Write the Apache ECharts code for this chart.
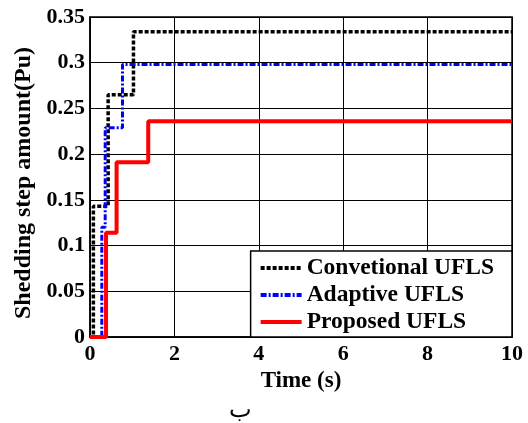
<!DOCTYPE html>
<html><head><meta charset="utf-8">
<script src="https://cdn.jsdelivr.net/npm/echarts@6/dist/echarts.min.js"></script>
<style>html,body{margin:0;padding:0;background:#fff}#c{width:528px;height:423px}</style>
</head><body><div id="c"></div>
<script>
const seriesNames = ['Convetional UFLS', 'Adaptive UFLS', 'Proposed UFLS'];
const convTimes = [0, 0.08, 0.43, 1.03, 10];
const convValues = [0, 0.143, 0.265, 0.334, 0.334];
const adapTimes = [0, 0.28, 0.36, 0.77, 10];
const adapValues = [0, 0.12, 0.229, 0.298, 0.298];
const propTimes = [0, 0.38, 0.63, 1.38, 10];
const propValues = [0, 0.114, 0.191, 0.236, 0.236];
const xTicks = [0, 2, 4, 6, 8, 10];
const yTicks = [0, 0.05, 0.1, 0.15, 0.2, 0.25, 0.3, 0.35];

const pair = (t, v) => t.map((x, i) => [x, v[i]]);
const font = 'Liberation Serif';
const chart = echarts.init(document.getElementById('c'));
chart.setOption({
  animation: false,
  backgroundColor: '#fff',
  grid: { left: 90, right: 16, top: 17, bottom: 86, show: true, borderColor: '#000', borderWidth: 1.5 },
  xAxis: {
    type: 'value', min: 0, max: 10, interval: 2,
    name: 'Time (s)', nameLocation: 'middle', nameGap: 31,
    nameTextStyle: { fontFamily: font, fontWeight: 'bold', fontSize: 23, color: '#000' },
    axisLine: { show: true, lineStyle: { color: '#000', width: 1.5 } },
    axisTick: { inside: true, length: 5, lineStyle: { color: '#000' } },
    axisLabel: { fontFamily: font, fontWeight: 'bold', fontSize: 22, color: '#000', margin: 6,
      formatter: v => xTicks.includes(v) ? String(v) : '' },
    splitLine: { show: true, lineStyle: { color: '#000', width: 1 } }
  },
  yAxis: {
    type: 'value', min: 0, max: 0.35, interval: 0.05,
    name: 'Shedding step amount(Pu)', nameLocation: 'middle', nameGap: 51,
    nameTextStyle: { fontFamily: font, fontWeight: 'bold', fontSize: 24, color: '#000', padding: [0, 12, 0, 0] },
    axisLine: { show: true, lineStyle: { color: '#000', width: 1.5 } },
    axisTick: { inside: true, length: 5, lineStyle: { color: '#000' } },
    axisLabel: { fontFamily: font, fontWeight: 'bold', fontSize: 22, color: '#000', margin: 5,
      formatter: v => { const t = yTicks.find(y => Math.abs(y - v) < 1e-9); return t === undefined ? '' : String(t); } },
    splitLine: { show: true, lineStyle: { color: '#000', width: 1 } }
  },
  legend: {
    orient: 'vertical', right: 16, bottom: 86,
    backgroundColor: '#fff', borderColor: '#000', borderWidth: 1.5, borderRadius: 0,
    padding: [5, 18, 3, 8], itemGap: 3, itemWidth: 41, itemHeight: 14,
    itemStyle: { opacity: 0 },
    lineStyle: { width: 4 },
    textStyle: { fontFamily: font, fontWeight: 'bold', fontSize: 23.5, color: '#000' },
    data: seriesNames
  },
  graphic: [{ type: 'text', left: 229, top: 399,
    style: { text: 'ب', font: '24px "Liberation Serif"', fill: '#000' } }],
  series: [
    { name: seriesNames[0], type: 'line', step: 'end', symbol: 'none', data: pair(convTimes, convValues),
      color: '#000', lineStyle: { color: '#000', width: 3.5, type: [4, 2] }, z: 3 },
    { name: seriesNames[1], type: 'line', step: 'end', symbol: 'none', data: pair(adapTimes, adapValues),
      color: '#0000ff', lineStyle: { color: '#0000ff', width: 3, type: [6, 2, 2, 2] }, z: 4 },
    { name: seriesNames[2], type: 'line', step: 'end', symbol: 'none', data: pair(propTimes, propValues),
      color: '#ff0000', lineStyle: { color: '#ff0000', width: 4 }, z: 5 }
  ]
});
</script></body></html>
